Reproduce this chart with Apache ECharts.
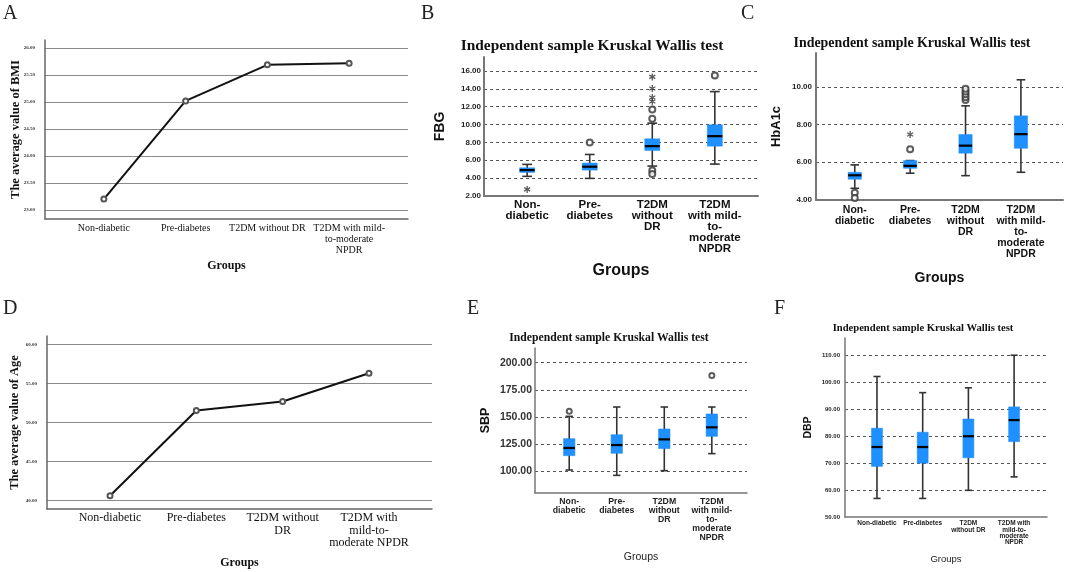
<!DOCTYPE html>
<html><head><meta charset="utf-8">
<script src="https://cdn.jsdelivr.net/npm/echarts@6/dist/echarts.min.js"></script>
<style>html,body{margin:0;padding:0;background:#fff}#c{width:1065px;height:572px}</style>
</head><body><div id="c"></div><script>
// ---------- data ----------
const labelsA = ['Non-diabetic','Pre-diabetes','T2DM without DR','T2DM with mild-\nto-moderate\nNPDR'];
const labelsD = ['Non-diabetic','Pre-diabetes','T2DM without\nDR','T2DM with\nmild-to-\nmoderate NPDR'];
const labelsBC = ['Non-\ndiabetic','Pre-\ndiabetes','T2DM\nwithout\nDR','T2DM\nwith mild-\nto-\nmoderate\nNPDR'];
const labelsF = ['Non-diabetic','Pre-diabetes','T2DM\nwithout DR','T2DM with\nmild-to-\nmoderate\nNPDR'];

const bmiMean = [23.20, 25.02, 25.69, 25.72];
const ageMean = [40.60, 51.54, 52.69, 56.32];

// box: [min, Q1, median, Q3, max] per group
const fbgBox = [[4.20,4.64,4.90,5.16,5.54],[3.97,4.90,5.28,5.69,6.65],[5.35,7.10,7.58,8.40,10.15],[5.57,7.58,8.70,9.97,13.69]];
const fbgCircles = [[],[8.00],[10.64,11.69,4.85,4.45],[15.48]];
const fbgStars = [[2.74],[],[12.58,13.03,14.03,15.33],[]];

const hbaBox = [[4.62,5.10,5.31,5.47,5.86],[5.42,5.68,5.81,6.09,6.09],[5.29,6.48,6.88,7.47,8.99],[5.47,6.74,7.49,8.46,10.37]];
const hbaCircles = [[4.39,4.11],[6.69],[9.30,9.45,9.60,9.75,9.90],[]];
const hbaStars = [[],[7.47],[],[]];

const sbpBox = [[101.2,114.4,121.5,130.1,150.6],[96.3,116.6,124.2,133.7,159.2],[100.6,120.9,129.4,139.0,159.2],[116.3,132.2,140.5,152.8,159.2]];
const sbpCircles = [[155.2],[],[],[188.3]];
const sbpStars = [[],[],[],[]];

const dbpBox = [[56.9,68.8,76.0,83.0,102.2],[56.9,70.0,76.0,81.5,96.2],[59.9,72.0,80.0,86.4,98.0],[64.9,78.0,86.0,90.9,110.1]];
const dbpCircles = [[],[],[],[]];
const dbpStars = [[],[],[],[]];

// ---------- styling helpers ----------
const SERIF = 'Liberation Serif', SANS = 'Liberation Sans';
const STAR = 'path://M-1.9,-10L1.9,-10L1.9,10L-1.9,10Z M7.71,-6.65L9.61,-3.35L-7.71,6.65L-9.61,3.35Z M9.61,3.35L7.71,6.65L-9.61,-3.35L-7.71,-6.65Z';

const grids = [], xAxes = [], yAxes = [], series = [];

function addPanel(p) {
  const gi = grids.length;
  const W = p.right - p.left, H = p.bottom - p.top;
  const yPx = v => p.top + (p.yMax - v) / (p.yMax - p.yMin) * H;
  const iTop = yPx(p.inMax), iBot = yPx(p.inMin);
  grids.push({left: p.left, top: p.top, width: W, height: H, containLabel: false, outerBoundsMode: 'none'});
  grids.push({left: p.left, top: iTop, width: W, height: iBot - iTop, containLabel: false, outerBoundsMode: 'none'});
  xAxes.push({
    type: 'value', gridIndex: gi, min: p.xMin, max: p.xMax,
    splitLine: {show: false}, axisTick: {show: false},
    axisLine: {show: true, onZero: false, lineStyle: {color: p.axisColor, width: p.axisWidth}},
    axisLabel: Object.assign({customValues: [0,1,2,3], formatter: v => p.labels[Math.round(v)], hideOverlap: false, interval: 0}, p.xLabel),
    name: 'Groups', nameLocation: 'middle', nameGap: p.xNameGap, nameTextStyle: p.xName
  });
  xAxes.push({type: 'value', gridIndex: gi + 1, min: p.xMin, max: p.xMax, show: false});
  yAxes.push({
    type: 'value', gridIndex: gi, min: p.yMin, max: p.yMax,
    axisLine: {show: true, onZero: false, lineStyle: {color: p.axisColor, width: p.axisWidth}},
    axisTick: {show: false}, axisLabel: {show: false}, splitLine: {show: false},
    name: p.yName, nameLocation: 'middle', nameGap: p.yNameGap, nameTextStyle: p.yNameStyle
  });
  yAxes.push({
    type: 'value', gridIndex: gi + 1, min: p.inMin, max: p.inMax, interval: p.step,
    axisLine: {show: false}, axisTick: {show: false},
    axisLabel: Object.assign({formatter: v => v.toFixed(2), showMinLabel: true, showMaxLabel: true}, p.yLabel),
    splitLine: {show: true, showMinLine: p.showMinLine, showMaxLine: true, lineStyle: p.grid}
  });
  if (p.line) {
    series.push({
      type: 'line', xAxisIndex: gi, yAxisIndex: gi,
      data: p.line.map((v, i) => [i, v]),
      lineStyle: {color: '#111', width: 2}, symbol: 'emptyCircle', symbolSize: 5,
      itemStyle: {color: '#555', borderWidth: 1}, z: 5
    });
  }
  if (p.box) {
    series.push({
      type: 'custom', xAxisIndex: gi, yAxisIndex: gi,
      data: p.box.map((b, i) => [i].concat(b)),
      encode: {x: 0, y: [1,2,3,4,5]},
      renderItem: (params, api) => {
        const x = api.value(0);
        const pMin = api.coord([x, api.value(1)]), pQ1 = api.coord([x, api.value(2)]),
              pMed = api.coord([x, api.value(3)]), pQ3 = api.coord([x, api.value(4)]),
              pMax = api.coord([x, api.value(5)]);
        const band = api.size([1, 0])[0];
        const bw = band * 0.24, cw = bw * 0.65, cx = pMed[0];
        const ws = {stroke: '#333', lineWidth: 1.6};
        return {type: 'group', children: [
          {type: 'line', shape: {x1: cx, y1: pMax[1], x2: cx, y2: pMin[1]}, style: ws},
          {type: 'line', shape: {x1: cx - cw/2, y1: pMax[1], x2: cx + cw/2, y2: pMax[1]}, style: ws},
          {type: 'line', shape: {x1: cx - cw/2, y1: pMin[1], x2: cx + cw/2, y2: pMin[1]}, style: ws},
          {type: 'rect', shape: {x: cx - bw/2, y: pQ3[1], width: bw, height: Math.max(pQ1[1] - pQ3[1], 1)}, style: {fill: '#1E90FF', stroke: '#1E8AF0', lineWidth: 0.5}},
          {type: 'line', shape: {x1: cx - bw/2, y1: pMed[1], x2: cx + bw/2, y2: pMed[1]}, style: {stroke: '#000', lineWidth: 2.2}}
        ]};
      }, z: 3
    });
    const circ = [], star = [];
    p.circles.forEach((arr, i) => arr.forEach(v => circ.push([i, v])));
    p.stars.forEach((arr, i) => arr.forEach(v => star.push([i, v])));
    series.push({type: 'scatter', xAxisIndex: gi, yAxisIndex: gi, data: circ, symbol: 'emptyCircle',
      symbolSize: p.osize, itemStyle: {color: '#333', borderWidth: 1.3}, z: 4});
    series.push({type: 'scatter', xAxisIndex: gi, yAxisIndex: gi, data: star, symbol: STAR, symbolKeepAspect: true,
      symbolSize: p.osize + 1, itemStyle: {color: '#333'}, z: 4});
  }
}

const solidGrid = {color: '#8a8a8a', width: 1, type: 'solid'};
const dashGrid = {color: '#555', width: 1, type: [3, 3]};

// A
addPanel({left: 45, top: 40, right: 408, bottom: 219, yMin: 22.83, yMax: 26.15, inMin: 23, inMax: 26, step: 0.5,
  xMin: -0.72, xMax: 3.72, labels: labelsA, line: bmiMean, axisColor: '#666', axisWidth: 1.5, grid: solidGrid, showMinLine: true,
  yLabel: {fontFamily: SERIF, fontSize: 5, fontWeight: 'bold', color: '#333', margin: 10},
  xLabel: {fontFamily: SERIF, fontSize: 10, color: '#111', lineHeight: 11, margin: 4},
  xNameGap: 41, xName: {fontFamily: SERIF, fontSize: 12, fontWeight: 'bold', color: '#111'},
  yName: 'The average value of BMI', yNameGap: 23, yNameStyle: {fontFamily: SERIF, fontSize: 12.5, fontWeight: 'bold', color: '#111'}});
// D
addPanel({left: 47, top: 336, right: 432, bottom: 509, yMin: 38.89, yMax: 61.11, inMin: 40, inMax: 60, step: 5,
  xMin: -0.73, xMax: 3.73, labels: labelsD, line: ageMean, axisColor: '#666', axisWidth: 1.5, grid: solidGrid, showMinLine: true,
  yLabel: {fontFamily: SERIF, fontSize: 5, fontWeight: 'bold', color: '#333', margin: 10},
  xLabel: {fontFamily: SERIF, fontSize: 12, color: '#111', lineHeight: 12.5, margin: 3},
  xNameGap: 48, xName: {fontFamily: SERIF, fontSize: 12, fontWeight: 'bold', color: '#111'},
  yName: 'The average value of Age', yNameGap: 26, yNameStyle: {fontFamily: SERIF, fontSize: 12.5, fontWeight: 'bold', color: '#111'}});
// B
addPanel({left: 484, top: 57, right: 758, bottom: 196, yMin: 2, yMax: 17.56, inMin: 2, inMax: 16, step: 2,
  xMin: -0.69, xMax: 3.69, labels: labelsBC, box: fbgBox, circles: fbgCircles, stars: fbgStars, osize: 6,
  axisColor: '#777', axisWidth: 2, grid: dashGrid, showMinLine: false,
  yLabel: {fontFamily: SANS, fontSize: 8, fontWeight: 'bold', color: '#222', margin: 3},
  xLabel: {fontFamily: SANS, fontSize: 11.5, fontWeight: 'bold', color: '#111', lineHeight: 11, margin: 3},
  xNameGap: 67, xName: {fontFamily: SANS, fontSize: 16, fontWeight: 'bold', color: '#111'},
  yName: 'FBG', yNameGap: 37, yNameStyle: {fontFamily: SANS, fontSize: 14, fontWeight: 'bold', color: '#111'}});
// C
addPanel({left: 816, top: 53, right: 1063, bottom: 200, yMin: 4, yMax: 11.79, inMin: 4, inMax: 10, step: 2,
  xMin: -0.70, xMax: 3.76, labels: labelsBC, box: hbaBox, circles: hbaCircles, stars: hbaStars, osize: 6,
  axisColor: '#777', axisWidth: 2, grid: dashGrid, showMinLine: false,
  yLabel: {fontFamily: SANS, fontSize: 8, fontWeight: 'bold', color: '#222', margin: 4},
  xLabel: {fontFamily: SANS, fontSize: 10.5, fontWeight: 'bold', color: '#111', lineHeight: 11, margin: 5},
  xNameGap: 71, xName: {fontFamily: SANS, fontSize: 14, fontWeight: 'bold', color: '#111'},
  yName: 'HbA1c', yNameGap: 33, yNameStyle: {fontFamily: SANS, fontSize: 13, fontWeight: 'bold', color: '#111'}});
// E
addPanel({left: 535, top: 348, right: 747, bottom: 493, yMin: 80.06, yMax: 213.5, inMin: 100, inMax: 200, step: 25,
  xMin: -0.72, xMax: 3.74, labels: labelsBC, box: sbpBox, circles: sbpCircles, stars: sbpStars, osize: 5,
  axisColor: '#777', axisWidth: 1.5, grid: dashGrid, showMinLine: true,
  yLabel: {fontFamily: SANS, fontSize: 10.5, fontWeight: 'bold', color: '#333', margin: 3},
  xLabel: {fontFamily: SANS, fontSize: 8.7, fontWeight: 'bold', color: '#222', lineHeight: 9, margin: 4.5},
  xNameGap: 59, xName: {fontFamily: SANS, fontSize: 10.5, color: '#222'},
  yName: 'SBP', yNameGap: 43, yNameStyle: {fontFamily: SANS, fontSize: 12.5, fontWeight: 'bold', color: '#111'}});
// F
addPanel({left: 845, top: 338, right: 1047, bottom: 517, yMin: 50, yMax: 116.5, inMin: 50, inMax: 110, step: 10,
  xMin: -0.70, xMax: 3.72, labels: labelsF, box: dbpBox, circles: dbpCircles, stars: dbpStars, osize: 5,
  axisColor: '#777', axisWidth: 1.5, grid: dashGrid, showMinLine: false,
  yLabel: {fontFamily: SANS, fontSize: 6, fontWeight: 'bold', color: '#222', margin: 5},
  xLabel: {fontFamily: SANS, fontSize: 6.5, fontWeight: 'bold', color: '#222', lineHeight: 6.3, margin: 3.5},
  xNameGap: 37, xName: {fontFamily: SANS, fontSize: 9.5, color: '#222'},
  yName: 'DBP', yNameGap: 31, yNameStyle: {fontFamily: SANS, fontSize: 10.5, fontWeight: 'bold', color: '#111'}});

const letter = (t, l, tp) => ({text: t, left: l, top: tp, padding: 0, textStyle: {fontFamily: SERIF, fontSize: 20, fontWeight: 'normal', color: '#222'}});
const kwTitle = (l, tp, fs) => ({text: 'Independent sample Kruskal Wallis test', left: l, top: tp, padding: 0, textAlign: 'center',
  textStyle: {fontFamily: SERIF, fontSize: fs, fontWeight: 'bold', color: '#111'}});

const chart = echarts.init(document.getElementById('c'), null, {renderer: 'canvas'});
chart.setOption({
  animation: false,
  backgroundColor: '#fff',
  title: [letter('A', 3, 4), letter('B', 421, 4), letter('C', 741, 4), letter('D', 3, 299), letter('E', 467, 299), letter('F', 774, 299),
    kwTitle(592, 39, 15.4), kwTitle(912, 36, 13.9), kwTitle(609, 332, 11.7), kwTitle(923, 323, 10.6)],
  grid: grids, xAxis: xAxes, yAxis: yAxes, series: series
});
</script></body></html>
